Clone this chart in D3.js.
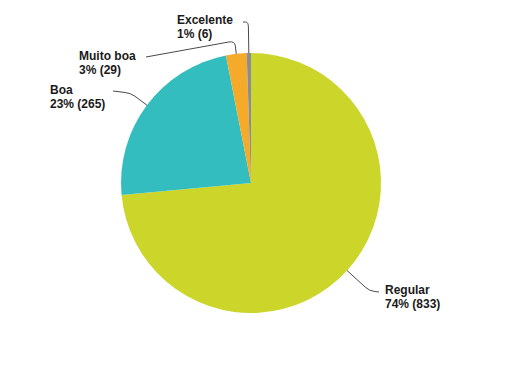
<!DOCTYPE html>
<html>
<head>
<meta charset="utf-8">
<script src="https://cdn.jsdelivr.net/npm/d3@7"></script>
<style>
  body { margin: 0; background: #fff; }
  .lbl { font-family: "Liberation Sans", Arial, sans-serif; font-weight: bold; font-size: 12px; fill: #1a1a1a; }
</style>
</head>
<body>
<div id="chart"></div>
<script>
// data
var categories = ["Regular", "Boa", "Muito boa", "Excelente"];
var counts = [833, 265, 29, 6];
var percentLabels = ["74%", "23%", "3%", "1%"];
var colors = ["#ccd52a", "#34bdbf", "#f6aa2a", "#8a8d93"];

// label layout: text position, connector end, elbow distance beyond the rim
var labelX = [385, 50, 79, 177];
var labelY = [294, 94, 60, 24];
var lineEndX = [379, 113, 146, 243];
var lineEndY = [292, 91, 57, 22];
var elbow = [30, 20, 13, 31];

var svgWidth = 505;
var svgHeight = 385;
var cx = 251, cy = 183, radius = 130;

var svg = d3.select("#chart")
    .append("svg")
    .attr("width", svgWidth)
    .attr("height", svgHeight);

var chartGroup = svg.append("g")
    .attr("transform", `translate(${cx}, ${cy})`);

var pie = d3.pie().sort(null).value(d => d);
var arcs = pie(counts);

var arc = d3.arc().innerRadius(0).outerRadius(radius);

chartGroup.selectAll("path.slice")
    .data(arcs)
    .enter()
    .append("path")
    .attr("class", "slice")
    .attr("d", arc)
    .attr("fill", (d, i) => colors[i]);

// connectors
function radial(angle, r) {
    return [Math.sin(angle) * r, -Math.cos(angle) * r];
}

arcs.forEach(function(d, i) {
    var mid = (d.startAngle + d.endAngle) / 2;
    var p = radial(mid, radius);
    var e = radial(mid, radius + elbow[i]);
    var e1 = radial(mid, radius + elbow[i] - 5);
    var t = [lineEndX[i] - cx, lineEndY[i] - cy];
    var dx = t[0] - e[0], dy = t[1] - e[1];
    var len = Math.sqrt(dx * dx + dy * dy) || 1;
    var k = Math.min(6, len / 2);
    var e2 = [e[0] + dx / len * k, e[1] + dy / len * k];
    var path = d3.path();
    path.moveTo(p[0], p[1]);
    path.lineTo(e1[0], e1[1]);
    path.quadraticCurveTo(e[0], e[1], e2[0], e2[1]);
    path.lineTo(t[0], t[1]);
    chartGroup.append("path")
        .attr("d", path.toString())
        .attr("fill", "none")
        .attr("stroke", "#4a4a4a")
        .attr("stroke-width", 1);
});

// labels
categories.forEach(function(c, i) {
    var txt = svg.append("text")
        .attr("class", "lbl")
        .attr("x", labelX[i])
        .attr("y", labelY[i]);
    txt.append("tspan").attr("x", labelX[i]).text(c);
    txt.append("tspan").attr("x", labelX[i]).attr("dy", 14)
        .text(`${percentLabels[i]} (${counts[i]})`);
});
</script>
</body>
</html>
